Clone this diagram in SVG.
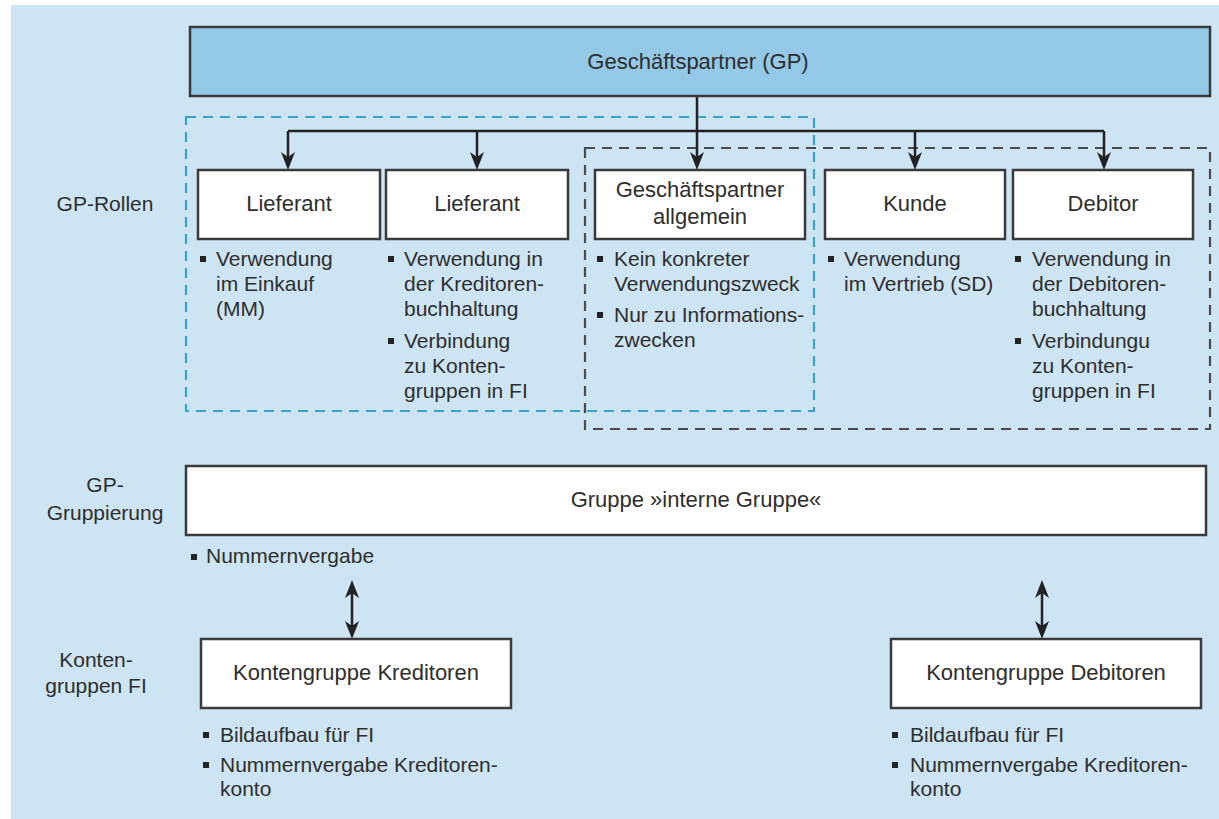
<svg xmlns="http://www.w3.org/2000/svg" width="1219" height="819" viewBox="0 0 1219 819">
<defs>
<style>
.bg{fill:#ffffff}
.panel{fill:#cde4f3}
.box{fill:#ffffff;stroke:#3a3a3a;stroke-width:2.5}
.gp{fill:#93c8e6;stroke:#3a3a3a;stroke-width:2.5}
.dblue{fill:none;stroke:#3aa3cc;stroke-width:2.2;stroke-dasharray:10 7}
.dgray{fill:none;stroke:#4a4a4a;stroke-width:2.2;stroke-dasharray:10 7}
.con{fill:none;stroke:#222;stroke-width:2.5}
text{font-family:"Liberation Sans",Arial,sans-serif;fill:#2e2e2e}
.lbl{font-size:22px;text-anchor:middle}
.side{font-size:21px;text-anchor:middle}
.bt{font-size:21px}
.sq{fill:#222}
</style>
<marker id="ah" viewBox="-10 -8 21 16" refX="0" refY="0" markerWidth="21" markerHeight="16" markerUnits="userSpaceOnUse" orient="auto-start-reverse">
<path d="M10,0 L-8,-7 L-3,0 L-8,7 Z" fill="#222"/>
</marker>
</defs>
<rect class="bg" x="0" y="0" width="1219" height="819"/>
<rect class="panel" x="11" y="5" width="1208" height="814"/>

<rect class="dblue" x="186" y="117" width="628" height="294"/>
<rect class="dgray" x="585" y="148" width="625" height="281"/>

<g id="connectors">
<path class="con" d="M697,96 V160" marker-end="url(#ah)"/>
<path class="con" d="M288,131 H1104"/>
<path class="con" d="M288,131 V160" marker-end="url(#ah)"/>
<path class="con" d="M477,131 V160" marker-end="url(#ah)"/>
<path class="con" d="M915,131 V160" marker-end="url(#ah)"/>
<path class="con" d="M1104,131 V160" marker-end="url(#ah)"/>
<path class="con" d="M352,590 V629" marker-start="url(#ah)" marker-end="url(#ah)"/>
<path class="con" d="M1042,590 V629" marker-start="url(#ah)" marker-end="url(#ah)"/>
</g>

<g id="gp">
<rect class="gp" x="190" y="27" width="1020" height="69"/>
<text class="lbl" x="698" y="69">Geschäftspartner (GP)</text>
</g>

<g id="side-labels">
<text class="side" x="105" y="211">GP-Rollen</text>
<text class="side" x="105" y="492">GP-</text>
<text class="side" x="105" y="520">Gruppierung</text>
<text class="side" x="96" y="667">Konten-</text>
<text class="side" x="96" y="693">gruppen FI</text>
</g>

<g id="lieferant1">
<rect class="box" x="198" y="170" width="182" height="69"/>
<text class="lbl" x="289" y="211">Lieferant</text>
<rect class="sq" x="200" y="256" width="6" height="6"/>
<text class="bt" x="216" y="266">Verwendung</text>
<text class="bt" x="216" y="291">im Einkauf</text>
<text class="bt" x="216" y="316">(MM)</text>
</g>

<g id="lieferant2">
<rect class="box" x="386" y="170" width="182" height="69"/>
<text class="lbl" x="477" y="211">Lieferant</text>
<rect class="sq" x="388" y="256" width="6" height="6"/>
<text class="bt" x="404" y="266">Verwendung in</text>
<text class="bt" x="404" y="291">der Kreditoren-</text>
<text class="bt" x="404" y="316">buchhaltung</text>
<rect class="sq" x="388" y="338" width="6" height="6"/>
<text class="bt" x="404" y="348">Verbindung</text>
<text class="bt" x="404" y="373">zu Konten-</text>
<text class="bt" x="404" y="398">gruppen in FI</text>
</g>

<g id="gp-allgemein">
<rect class="box" x="595" y="170" width="210" height="69"/>
<text class="lbl" x="700" y="197">Geschäftspartner</text>
<text class="lbl" x="700" y="224">allgemein</text>
<rect class="sq" x="597" y="256" width="6" height="6"/>
<text class="bt" x="614" y="266">Kein konkreter</text>
<text class="bt" x="614" y="291">Verwendungszweck</text>
<rect class="sq" x="597" y="312" width="6" height="6"/>
<text class="bt" x="614" y="322">Nur zu Informations-</text>
<text class="bt" x="614" y="347">zwecken</text>
</g>

<g id="kunde">
<rect class="box" x="825" y="170" width="180" height="69"/>
<text class="lbl" x="915" y="211">Kunde</text>
<rect class="sq" x="828" y="256" width="6" height="6"/>
<text class="bt" x="844" y="266">Verwendung</text>
<text class="bt" x="844" y="291">im Vertrieb (SD)</text>
</g>

<g id="debitor">
<rect class="box" x="1013" y="170" width="180" height="69"/>
<text class="lbl" x="1103" y="211">Debitor</text>
<rect class="sq" x="1015" y="256" width="6" height="6"/>
<text class="bt" x="1032" y="266">Verwendung in</text>
<text class="bt" x="1032" y="291">der Debitoren-</text>
<text class="bt" x="1032" y="316">buchhaltung</text>
<rect class="sq" x="1015" y="338" width="6" height="6"/>
<text class="bt" x="1032" y="348">Verbindungu</text>
<text class="bt" x="1032" y="373">zu Konten-</text>
<text class="bt" x="1032" y="398">gruppen in FI</text>
</g>

<g id="gruppe">
<rect class="box" x="186" y="466" width="1020" height="69"/>
<text class="lbl" x="696" y="507">Gruppe »interne Gruppe«</text>
<rect class="sq" x="191" y="554" width="6" height="6"/>
<text class="bt" x="206" y="563">Nummernvergabe</text>
</g>

<g id="kontengruppe-kreditoren">
<rect class="box" x="201" y="639" width="310" height="69"/>
<text class="lbl" x="356" y="680">Kontengruppe Kreditoren</text>
<rect class="sq" x="203" y="732" width="6" height="6"/>
<text class="bt" x="220" y="742">Bildaufbau für FI</text>
<rect class="sq" x="203" y="762" width="6" height="6"/>
<text class="bt" x="220" y="772">Nummernvergabe Kreditoren-</text>
<text class="bt" x="220" y="796">konto</text>
</g>

<g id="kontengruppe-debitoren">
<rect class="box" x="891" y="639" width="310" height="69"/>
<text class="lbl" x="1046" y="680">Kontengruppe Debitoren</text>
<rect class="sq" x="892" y="732" width="6" height="6"/>
<text class="bt" x="910" y="742">Bildaufbau für FI</text>
<rect class="sq" x="892" y="762" width="6" height="6"/>
<text class="bt" x="910" y="772">Nummernvergabe Kreditoren-</text>
<text class="bt" x="910" y="796">konto</text>
</g>
</svg>
